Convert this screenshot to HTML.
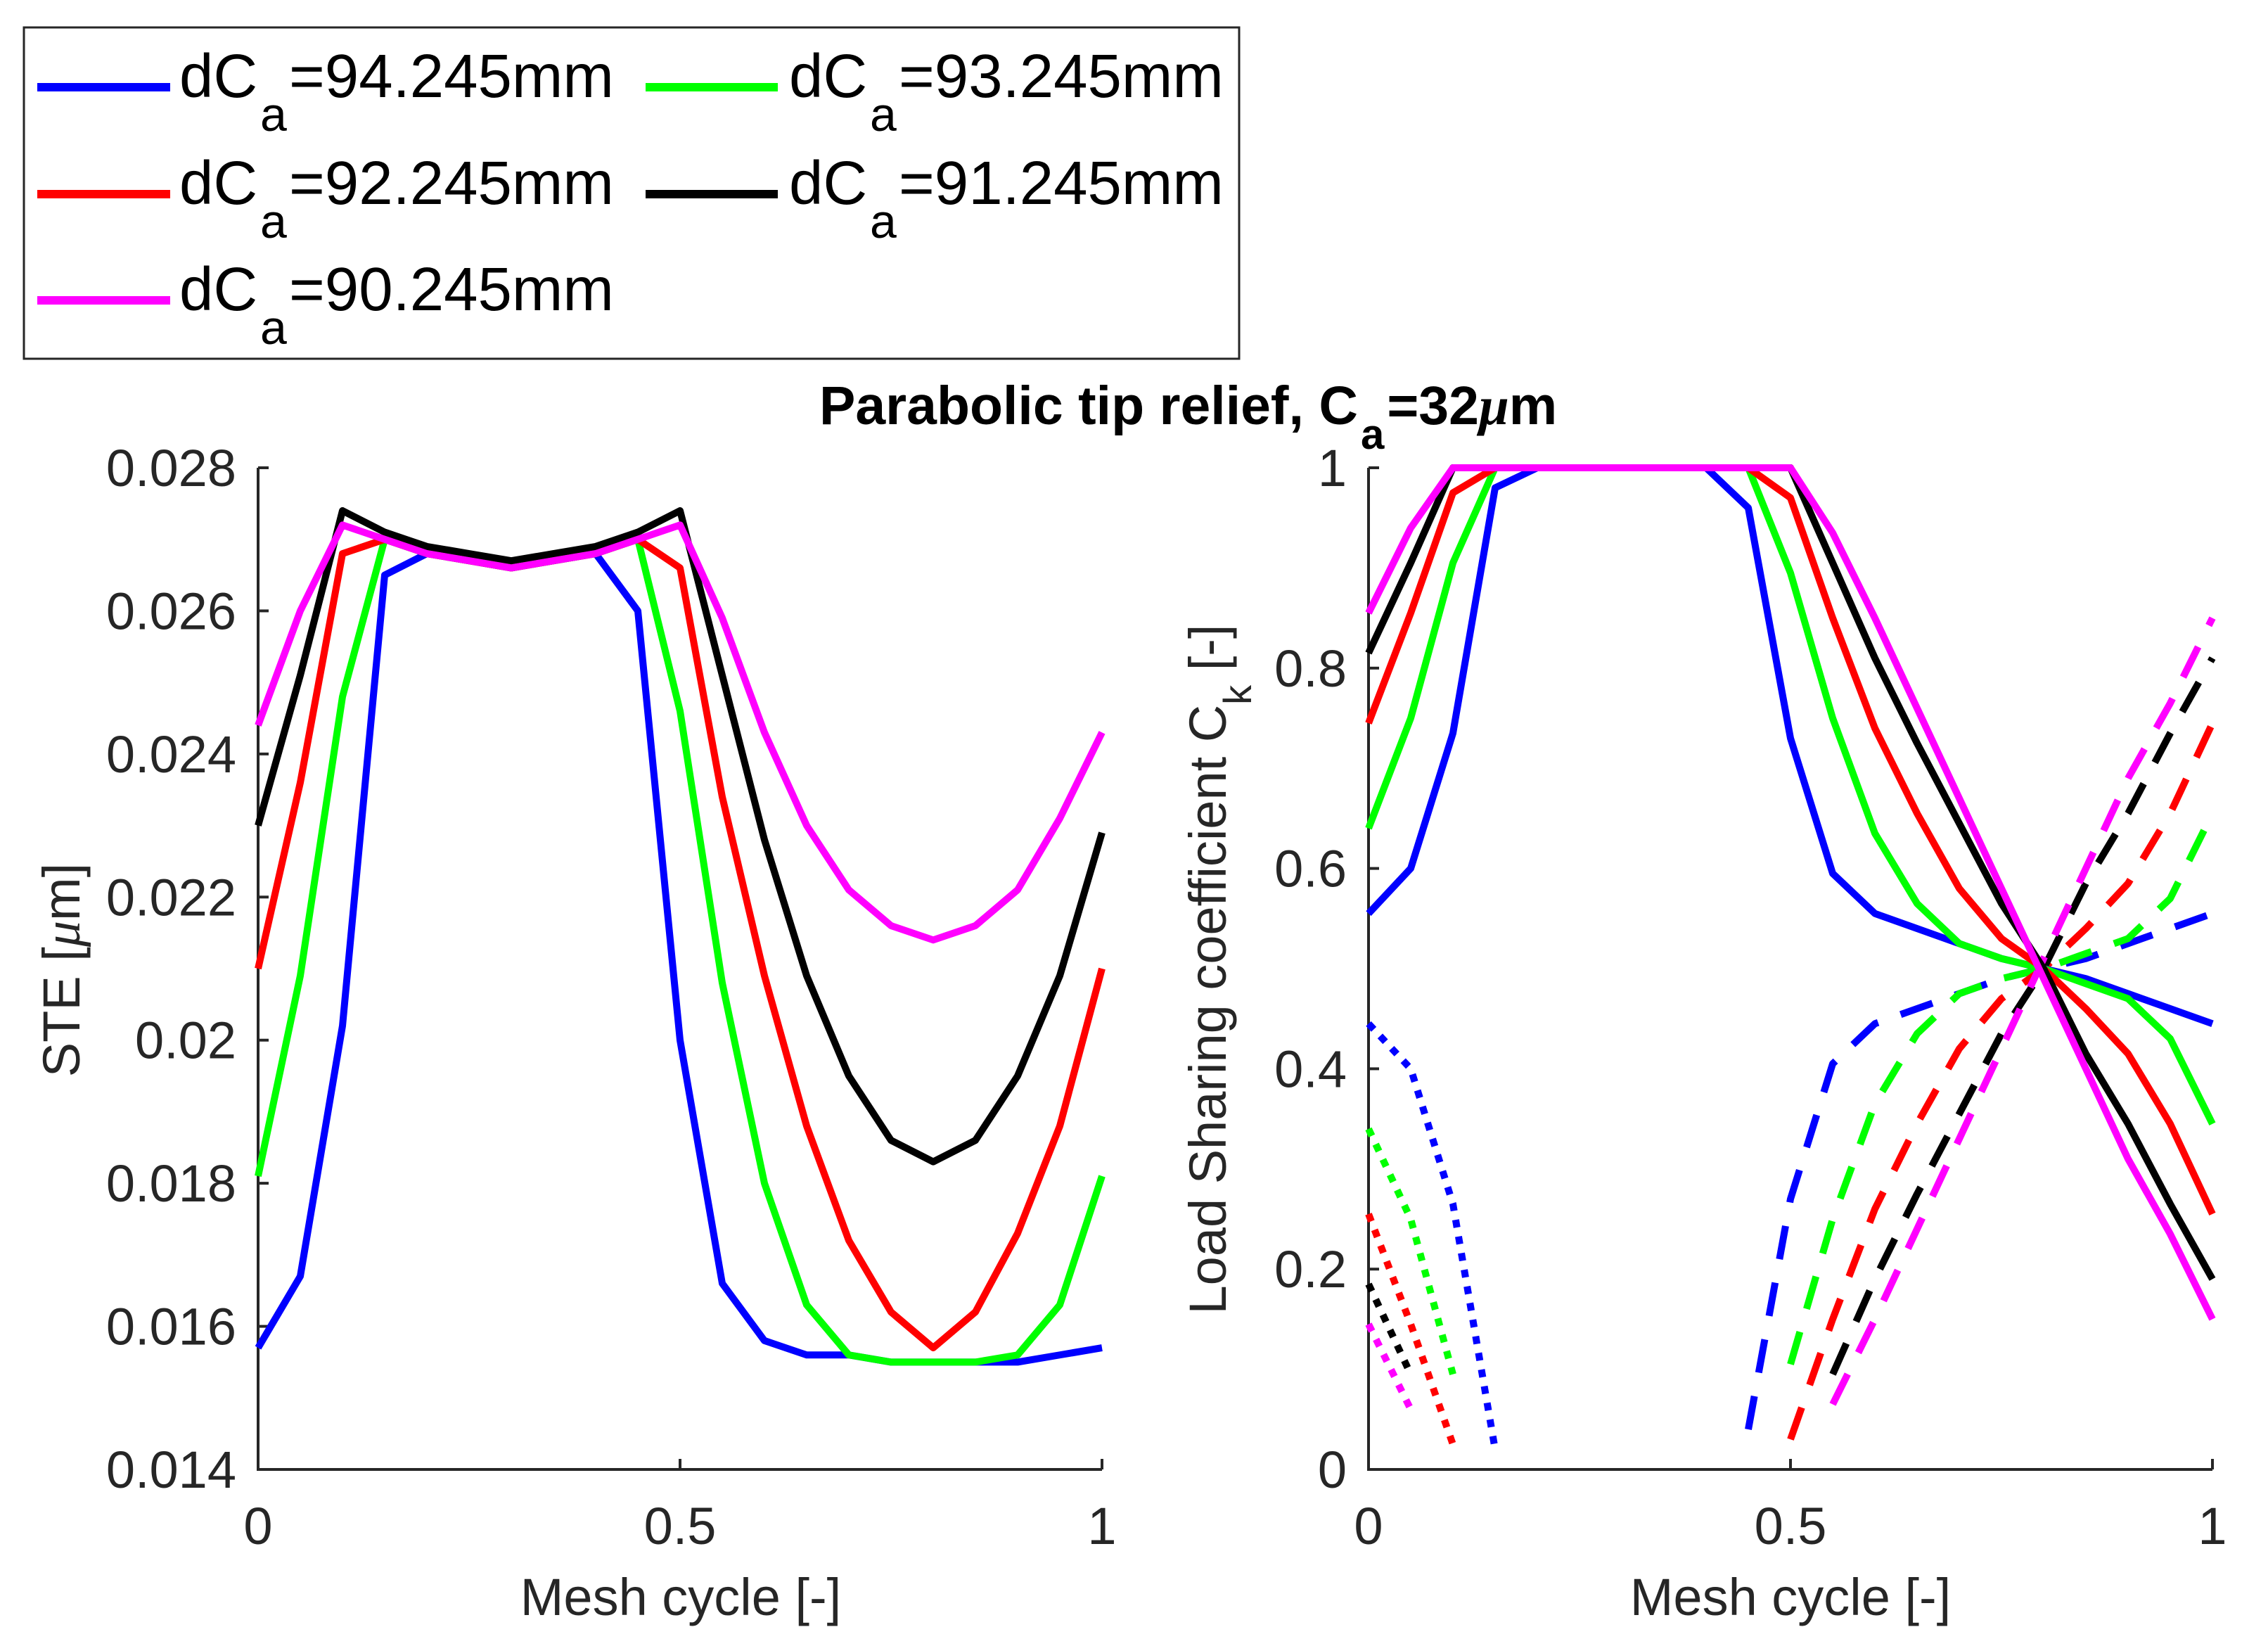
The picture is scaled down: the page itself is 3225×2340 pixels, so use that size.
<!DOCTYPE html>
<html><head><meta charset="utf-8">
<style>
html,body{margin:0;padding:0;background:#fff;}
svg{display:block;}
text{font-family:"Liberation Sans",Arial,sans-serif;}
</style></head>
<body>
<svg id="fig" width="3225" height="2340" viewBox="0 0 3225 2340" xmlns="http://www.w3.org/2000/svg">
<rect x="0" y="0" width="3225" height="2340" fill="#fff"/>
<g>
  <rect x="34" y="39" width="1728" height="471" fill="#fff" stroke="#262626" stroke-width="3"/>
  <line x1="53" y1="124" x2="242" y2="124" stroke="#0000ff" stroke-width="12"/>
  <text x="255" y="138" font-size="87" fill="#000">dC<tspan x="370" y="186" font-size="68">a</tspan><tspan x="411" y="138">=94.245mm</tspan></text>
  <line x1="918" y1="124" x2="1106" y2="124" stroke="#00ff00" stroke-width="12"/>
  <text x="1122" y="138" font-size="87" fill="#000">dC<tspan x="1237" y="186" font-size="68">a</tspan><tspan x="1278" y="138">=93.245mm</tspan></text>
  <line x1="53" y1="276" x2="242" y2="276" stroke="#ff0000" stroke-width="12"/>
  <text x="255" y="290" font-size="87" fill="#000">dC<tspan x="370" y="338" font-size="68">a</tspan><tspan x="411" y="290">=92.245mm</tspan></text>
  <line x1="918" y1="276" x2="1106" y2="276" stroke="#000000" stroke-width="12"/>
  <text x="1122" y="290" font-size="87" fill="#000">dC<tspan x="1237" y="338" font-size="68">a</tspan><tspan x="1278" y="290">=91.245mm</tspan></text>
  <line x1="53" y1="427" x2="242" y2="427" stroke="#ff00ff" stroke-width="12"/>
  <text x="255" y="441" font-size="87" fill="#000">dC<tspan x="370" y="489" font-size="68">a</tspan><tspan x="411" y="441">=90.245mm</tspan></text>
</g>
<text x="1165" y="603" font-size="77" font-weight="bold" fill="#000">Parabolic tip relief, C<tspan font-size="60" dx="4" dy="35">a</tspan><tspan dx="4" dy="-35">=32</tspan><tspan font-style="italic" font-family="Liberation Serif">μ</tspan><tspan>m</tspan></text>
<text transform="translate(113,1379) rotate(-90)" text-anchor="middle" font-size="74" fill="#262626">STE [<tspan font-style="italic" font-family="Liberation Serif">μ</tspan>m]</text>
<text transform="translate(1743,1378) rotate(-90)" text-anchor="middle" font-size="74" fill="#262626">Load Sharing coefficient C<tspan font-size="56" dy="36">k</tspan><tspan dy="-36"> [-]</tspan></text>
<text x="968" y="2296" text-anchor="middle" font-size="74" fill="#262626">Mesh cycle [-]</text>
<text x="2546" y="2296" text-anchor="middle" font-size="74" fill="#262626">Mesh cycle [-]</text>
<g id="left"></g>
<g id="right"></g>
</svg>
<script>
const xs = [0,0.05,0.1,0.15,0.2,0.25,0.3,0.35,0.4,0.45,0.5,0.55,0.6,0.65,0.7,0.75,0.8,0.85,0.9,0.95,1];
const colors = ['#0000ff','#00ff00','#ff0000','#000000','#ff00ff'];
const seriesNames = ['94','93','92','91','90'];
const steBlue = [0.0157,0.0167,0.0202,0.0265,0.0268,0.0267,0.0266,0.0267,0.0268,0.0260,0.0200,0.0166,0.0158,0.0156,0.0156,0.0155,0.0155,0.0155,0.0155,0.0156,0.0157];
const steGreen = [0.0181,0.0209,0.0248,0.0270,0.0268,0.0267,0.0266,0.0267,0.0268,0.0270,0.0246,0.0208,0.0180,0.0163,0.0156,0.0155,0.0155,0.0155,0.0156,0.0163,0.0181];
const steRed = [0.0210,0.0236,0.0268,0.0270,0.0268,0.0267,0.0266,0.0267,0.0268,0.0270,0.0266,0.0234,0.0209,0.0188,0.0172,0.0162,0.0157,0.0162,0.0173,0.0188,0.0210];
const steBlack = [0.0230,0.0251,0.0274,0.0271,0.0269,0.0268,0.0267,0.0268,0.0269,0.0271,0.0274,0.0251,0.0228,0.0209,0.0195,0.0186,0.0183,0.0186,0.0195,0.0209,0.0229];
const steMagenta = [0.0244,0.0260,0.0272,0.0270,0.0268,0.0267,0.0266,0.0267,0.0268,0.0270,0.0272,0.0259,0.0243,0.0230,0.0221,0.0216,0.0214,0.0216,0.0221,0.0231,0.0243];
const lsBlue = [0.555,0.60,0.735,0.98,1,1,1,1,1,0.96,0.73,0.595,0.555,0.54,0.525,0.51,0.50,0.49,0.475,0.46,0.445];
const lsGreen = [0.64,0.75,0.905,1,1,1,1,1,1,1,0.895,0.75,0.635,0.565,0.525,0.51,0.50,0.485,0.47,0.43,0.345];
const lsRed = [0.745,0.855,0.975,1,1,1,1,1,1,1,0.97,0.85,0.74,0.655,0.58,0.53,0.50,0.46,0.415,0.345,0.255];
const lsBlack = [0.815,0.905,1,1,1,1,1,1,1,1,1,0.905,0.81,0.725,0.645,0.565,0.50,0.415,0.345,0.265,0.19];
const lsMagenta = [0.855,0.94,1,1,1,1,1,1,1,1,1,0.935,0.85,0.76,0.67,0.58,0.49,0.40,0.31,0.235,0.15];
// dashed (next pair), from start index
const dashStart = [9,10,10,11,11];
const dashBlue = [0.04,0.27,0.405,0.445,0.46,0.475,0.49,0.50,0.51,0.525,0.54,0.555];
const dashGreen = [0.105,0.25,0.365,0.435,0.475,0.49,0.50,0.515,0.53,0.57,0.655];
const dashRed = [0.03,0.15,0.26,0.345,0.42,0.47,0.50,0.54,0.585,0.655,0.745];
const dashBlack = [0.095,0.19,0.275,0.355,0.435,0.50,0.585,0.655,0.735,0.81];
const dashMagenta = [0.065,0.15,0.24,0.33,0.42,0.51,0.60,0.69,0.765,0.85];
// dotted (previous pair), from x=0
const dotBlue = [0.445,0.40,0.265,0.02];
const dotGreen = [0.34,0.25,0.095];
const dotRed = [0.255,0.145,0.025];
const dotBlack = [0.185,0.095];
const dotMagenta = [0.145,0.06];
const steTicks = [0.014,0.016,0.018,0.02,0.022,0.024,0.026,0.028];
const steTickLabels = ['0.014','0.016','0.018','0.02','0.022','0.024','0.026','0.028'];
const lsTicks = [0,0.2,0.4,0.6,0.8,1];
const lsTickLabels = ['0','0.2','0.4','0.6','0.8','1'];
const xTicks = [0,0.5,1];
const xTickLabels = ['0','0.5','1'];

const NS='http://www.w3.org/2000/svg';
const T=665,B=2089;
function mk(tag,parent){const e=document.createElementNS(NS,tag);parent.appendChild(e);return e;}
function axes(g,L,ymin,ymax,yt,ytl,prefix){
  const R=L+1200;
  const sx=v=>L+v*(R-L);
  const sy=v=>B-(v-ymin)/(ymax-ymin)*(B-T);
  const ax=mk('path',g);
  
  
  ax.setAttribute('d',`M${L},${T}V${B}H${R}`);ax.setAttribute('fill','none');ax.setAttribute('stroke','#262626');ax.setAttribute('stroke-width','4');
  yt.forEach((v,i)=>{
    const t=mk('line',g);t.setAttribute('x1',L);t.setAttribute('x2',L+15);t.setAttribute('y1',sy(v));t.setAttribute('y2',sy(v));t.setAttribute('stroke','#262626');t.setAttribute('stroke-width','4');
    
    
    const tx=mk('text',g);tx.textContent=ytl[i];tx.setAttribute('x',L-31);tx.setAttribute('y',sy(v)+26);tx.setAttribute('text-anchor','end');tx.setAttribute('font-size','74');tx.setAttribute('fill','#262626');
    
    
  });
  xTicks.forEach((v,i)=>{
    const t=mk('line',g);t.setAttribute('x1',sx(v));t.setAttribute('x2',sx(v));t.setAttribute('y1',B);t.setAttribute('y2',B-15);t.setAttribute('stroke','#262626');t.setAttribute('stroke-width','4');
    
    
    const tx=mk('text',g);tx.textContent=xTickLabels[i];tx.setAttribute('x',sx(v));tx.setAttribute('y',2195);tx.setAttribute('text-anchor','middle');tx.setAttribute('font-size','74');tx.setAttribute('fill','#262626');
    
    
  });
  return {sx,sy};
}
function line(g,s,xv,yv,col,dash,name){
  const p=mk('polyline',g);
  
  
  p.setAttribute('points',yv.map((v,i)=>s.sx(xv[i])+','+s.sy(v)).join(' '));
  p.setAttribute('fill','none');p.setAttribute('stroke',col);p.setAttribute('stroke-width','10');
  p.setAttribute('stroke-linejoin','round');
  if(dash){p.setAttribute('stroke-dasharray',dash);}
}
const gl=document.getElementById('left'),gr=document.getElementById('right');
const sL=axes(gl,367,0.014,0.028,steTicks,steTickLabels,'ste');
const sR=axes(gr,1946,0,1,lsTicks,lsTickLabels,'load');
const steAll=[steBlue,steGreen,steRed,steBlack,steMagenta];
const lsAll=[lsBlue,lsGreen,lsRed,lsBlack,lsMagenta];
const dashAll=[dashBlue,dashGreen,dashRed,dashBlack,dashMagenta];
const dotAll=[dotBlue,dotGreen,dotRed,dotBlack,dotMagenta];
steAll.forEach((d,k)=>line(gl,sL,xs,d,colors[k],null,'ste-line-'+seriesNames[k]));
dotAll.forEach((d,k)=>line(gr,sR,xs,d,colors[k],'11 13','load-dotted-'+seriesNames[k]));
dashAll.forEach((d,k)=>line(gr,sR,xs.slice(dashStart[k]),d,colors[k],'48 34','load-dashed-'+seriesNames[k]));
lsAll.forEach((d,k)=>line(gr,sR,xs,d,colors[k],null,'load-solid-'+seriesNames[k]));
</script>
</body></html>
